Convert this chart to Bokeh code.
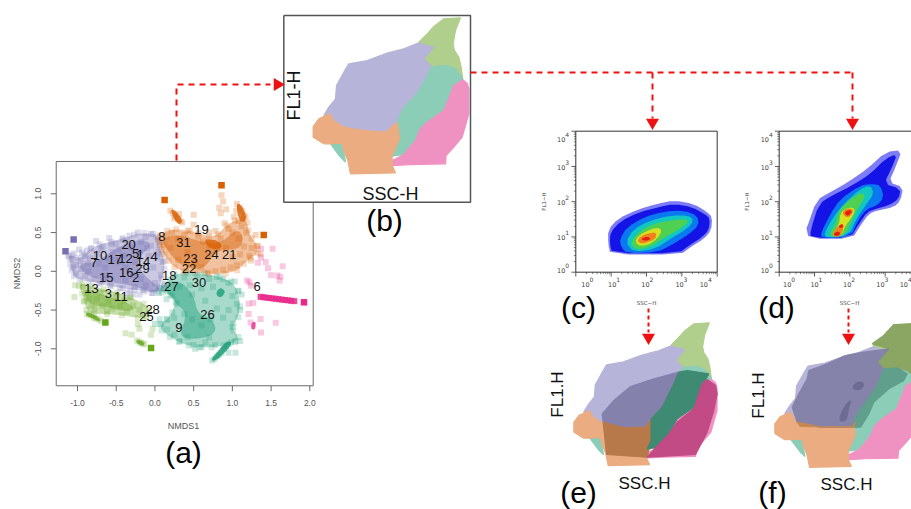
from bokeh.plotting import figure
from bokeh.models import Range1d
from bokeh.core.properties import value
from bokeh.embed import file_html
from bokeh.resources import INLINE
import numpy as np

# ---------- panel (a): NMDS ordination ----------
site_labels = ["19","8","20","31","5","1","4","23","24","21","10","7","17","12","14","29","22","16","15","2","18","30","27","6","13","3","11","28","25","26","9"]
site_x = [0.60,0.09,-0.34,0.37,-0.25,-0.19,-0.01,0.46,0.73,0.96,-0.71,-0.79,-0.52,-0.38,-0.155,-0.16,0.44,-0.37,-0.63,-0.25,0.185,0.57,0.21,1.32,-0.82,-0.6,-0.44,-0.03,-0.11,0.68,0.31]
site_y = [0.54,0.45,0.35,0.37,0.23,0.215,0.19,0.17,0.215,0.22,0.20,0.11,0.146,0.17,0.125,0.04,0.04,-0.02,-0.08,-0.086,-0.056,-0.14,-0.2,-0.2,-0.224,-0.28,-0.327,-0.49,-0.585,-0.563,-0.727]

purple_hull = [(-1.11,0.22),(-0.96,0.16),(-0.79,0.33),(-0.49,0.40),(-0.19,0.50),(0.03,0.48),(0.07,0.27),(0.14,0.09),(0.07,-0.16),(0.03,-0.29),(-0.19,-0.25),(-0.49,-0.21),(-0.79,-0.14),(-1.03,-0.10),(-1.09,0.05)]
orange_hull = [(0.03,0.44),(0.20,0.55),(0.50,0.52),(0.76,0.42),(0.98,0.65),(1.19,0.675),(1.21,0.48),(1.37,0.27),(1.19,0.14),(1.02,-0.03),(0.59,-0.03),(0.29,0.01),(0.14,0.18),(0.07,0.31)]
teal_hull = [(0.03,-0.25),(0.16,-0.14),(0.29,-0.01),(0.76,-0.04),(1.06,-0.16),(1.11,-0.55),(0.98,-0.72),(1.11,-0.89),(0.81,-0.98),(0.50,-0.98),(0.25,-0.89),(0.03,-0.72),(0.20,-0.59),(0.29,-0.34)]
green_hull = [(-1.0,-0.14),(-0.75,-0.21),(-0.40,-0.29),(-0.06,-0.46),(-0.12,-0.62),(-0.53,-0.55),(-0.875,-0.55),(-0.92,-0.34)]

purple_core = [(-1.0,0.1),(-0.75,0.12),(-0.5,0.3),(-0.2,0.42),(-0.02,0.35),(-0.25,0.15),(-0.15,-0.05),(0.08,-0.22),(0.0,-0.28),(-0.3,-0.18),(-0.6,-0.14),(-0.9,-0.05)]
orange_core = [(0.08,0.42),(0.3,0.48),(0.6,0.38),(0.85,0.35),(1.05,0.55),(1.15,0.45),(1.1,0.28),(0.8,0.28),(0.65,0.05),(0.5,0.02),(0.3,0.1),(0.15,0.28)]
teal_core = [(0.1,-0.2),(0.3,-0.1),(0.5,-0.3),(0.55,-0.55),(0.75,-0.62),(0.8,-0.8),(0.55,-0.88),(0.3,-0.85),(0.42,-0.55),(0.28,-0.42)]
green_core = [(-0.92,-0.2),(-0.7,-0.3),(-0.4,-0.38),(-0.25,-0.48),(-0.35,-0.52),(-0.6,-0.47),(-0.88,-0.42)]
dense_marks = [
 ("#D95F02",[(0.2,0.8),(0.26,0.79),(0.36,0.66),(0.32,0.6),(0.26,0.65)]),
 ("#D95F02",[(1.05,0.88),(1.11,0.86),(1.18,0.72),(1.16,0.63),(1.08,0.66)]),
 ("#D95F02",[(0.62,0.42),(0.82,0.4),(0.88,0.3),(0.72,0.28)]),
 ("#1B9E77",[(0.72,-1.14),(0.78,-1.16),(0.93,-1.02),(1.0,-0.92),(0.93,-0.9),(0.84,-1.0)]),
 ("#1B9E77",[(0.79,-0.27),(0.84,-0.21),(0.91,-0.25),(0.87,-0.33),(0.81,-0.33)]),
 ("#66A61E",[(-0.89,-0.53),(-0.8,-0.55),(-0.7,-0.62),(-0.72,-0.65),(-0.84,-0.59),(-0.89,-0.57)]),
 ("#66A61E",[(-0.24,-0.89),(-0.18,-0.89),(-0.13,-0.94),(-0.17,-0.96),(-0.24,-0.92)]),
 ("#E7298A",[(1.25,-0.66),(1.3,-0.65),(1.3,-0.73),(1.27,-0.76),(1.24,-0.73)]),
]

purple_pts = [(-1.12,0.2),(-1.08,0.16),(-1.05,0.23),(-1.02,0.08),(-0.98,0.28),(-0.95,0.03),(-0.9,0.2),(-0.86,0.0),(-0.82,0.3),(-0.76,0.39),(-0.72,0.1),(-0.68,0.32),(-0.59,0.43),(-0.62,-0.05),(-0.55,0.25),(-0.5,0.36),(-0.46,0.12),(-0.42,0.41),(-0.38,-0.12),(-0.33,0.46),(-0.3,0.3),(-0.26,-0.2),(-0.22,0.5),(-0.18,0.38),(-0.15,-0.24),(-0.12,0.44),(-0.08,0.2),(-0.05,0.48),(-0.02,0.05),(0.02,0.45),(0.05,0.25),(0.08,-0.05),(0.1,0.12),(0.12,-0.18),(-1.06,0.05),(-1.02,-0.03),(-0.96,0.13),(-0.9,-0.06),(-0.84,0.17),(-0.78,-0.1),(-0.7,-0.14),(-0.64,0.05),(-0.58,-0.18),(-0.52,0.15),(-0.45,-0.22),(-0.38,0.05),(-0.32,-0.25),(-0.25,0.12),(-0.18,-0.1),(-0.1,0.3),(-0.04,-0.28),(0.03,0.18),(0.08,-0.22),(-0.94,0.24),(-0.87,0.1),(-0.75,0.22),(-0.65,-0.1),(-0.56,0.35),(-0.47,0.28),(-0.36,0.38),(-0.28,-0.05),(-0.2,0.25),(-0.12,-0.18),(-0.05,0.33),(0.0,-0.15),(0.06,0.38),(-0.6,0.15),(-0.4,0.2),(-0.88,0.27),(-0.7,0.28),(-0.2,-0.3),(-0.28,-0.3),(-0.36,-0.28)]
orange_pts = [(0.2,0.78),(0.23,0.75),(0.26,0.71),(0.3,0.68),(0.33,0.65),(0.35,0.63),(0.25,0.68),(0.31,0.74),(0.5,0.73),(0.86,0.98),(0.88,0.9),(0.83,0.82),(0.85,0.75),(0.92,0.8),(1.06,0.87),(1.1,0.82),(1.13,0.78),(1.15,0.72),(1.17,0.7),(1.05,0.78),(1.02,0.7),(1.08,0.65),(0.9,0.62),(0.95,0.55),(1.0,0.5),(1.12,0.58),(1.18,0.5),(1.3,0.47),(1.32,0.33),(1.25,0.3),(1.22,0.2),(1.15,0.32),(1.08,0.42),(0.15,0.45),(0.22,0.5),(0.3,0.42),(0.38,0.47),(0.45,0.52),(0.5,0.6),(0.56,0.45),(0.62,0.38),(0.7,0.33),(0.8,0.3),(0.85,0.42),(0.92,0.3),(1.0,0.18),(1.06,0.08),(0.98,0.05),(0.88,0.02),(0.78,0.0),(0.68,-0.02),(0.6,0.05),(0.52,0.1),(0.42,0.25),(0.3,0.15),(0.2,0.3),(0.12,0.35),(0.7,0.5),(0.78,0.52),(1.1,0.22),(1.24,0.14),(1.36,0.22),(0.4,0.0)]
teal_pts = [(0.05,-0.28),(0.12,-0.22),(0.2,-0.3),(0.15,-0.36),(0.28,-0.42),(0.32,-0.2),(0.38,-0.08),(0.45,-0.18),(0.48,-0.3),(0.55,-0.05),(0.6,-0.22),(0.65,-0.38),(0.7,-0.1),(0.75,-0.2),(0.8,-0.07),(0.88,-0.1),(0.95,-0.15),(1.03,-0.13),(1.08,-0.25),(1.0,-0.32),(1.06,-0.42),(1.1,-0.5),(0.95,-0.5),(0.88,-0.6),(0.8,-0.48),(0.72,-0.62),(0.6,-0.7),(0.48,-0.62),(0.38,-0.55),(0.25,-0.6),(0.15,-0.62),(0.08,-0.68),(0.16,-0.75),(0.25,-0.82),(0.32,-0.9),(0.42,-0.85),(0.5,-0.95),(0.6,-0.98),(0.52,-1.0),(0.7,-0.85),(0.78,-0.95),(0.65,-0.92),(0.95,-1.05),(1.04,-0.9),(1.1,-0.9),(1.04,-1.05),(0.74,-1.15),(0.77,-1.13),(0.8,-1.1),(0.83,-1.08),(0.86,-1.05),(0.89,-1.0),(0.92,-0.97),(0.95,-0.94),(0.98,-0.92),(0.0,-0.68),(0.06,-0.62),(1.0,-0.72),(1.12,-0.3)]
green_pts = [(-1.03,-0.18),(-1.04,-0.33),(-0.93,-0.2),(-0.88,-0.28),(-0.92,-0.38),(-0.82,-0.44),(-0.75,-0.36),(-0.68,-0.45),(-0.7,-0.28),(-0.6,-0.4),(-0.55,-0.48),(-0.62,-0.52),(-0.45,-0.45),(-0.4,-0.38),(-0.36,-0.52),(-0.28,-0.44),(-0.2,-0.5),(-0.15,-0.6),(-0.22,-0.68),(-0.2,-0.74),(-0.38,-0.8),(-0.3,-0.82),(-0.03,-0.74),(-0.05,-0.82),(-0.875,-0.55),(-0.85,-0.56),(-0.82,-0.57),(-0.79,-0.6),(-0.76,-0.61),(-0.73,-0.62),(-0.7,-0.64),(-0.23,-0.895),(-0.2,-0.91),(-0.18,-0.925),(-0.16,-0.93),(-0.14,-0.94),(-0.85,-0.36),(-0.78,-0.48),(-0.5,-0.33),(-0.32,-0.34)]
pink_pts = [(1.37,0.29),(1.52,0.29),(1.37,0.18),(1.43,0.12),(1.33,0.11),(1.46,0.04),(1.65,0.065),(1.5,-0.05),(1.58,-0.055),(1.61,-0.12),(1.19,-0.12),(1.24,-0.185),(1.21,-0.42),(1.27,-0.41),(1.21,-0.55),(1.365,-0.615),(1.56,-0.665),(1.37,-0.79),(1.235,-0.66),(1.22,-0.14),(1.62,-0.07)]
pink_streak = [(1.365,-0.33),(1.4,-0.335),(1.44,-0.34),(1.48,-0.345),(1.52,-0.35),(1.56,-0.355),(1.6,-0.36),(1.64,-0.365),(1.68,-0.37),(1.72,-0.375),(1.76,-0.38),(1.8,-0.385)]
solid_orange = [(0.125,0.92),(0.86,1.11),(1.405,0.47)]
solid_purple = [(-1.05,0.41),(-1.155,0.26)]
solid_green = [(-0.64,-0.66),(-0.05,-0.99)]
solid_pink = [(1.925,-0.40)]

# ---------- gates in FL1/SSC channel units ----------
gate_green = [(570,52),(520,55),(490,78),(470,100),(445,125),(470,140),(460,175),(485,200),(530,195),(555,205),(577,238),(572,200),(565,170),(552,150),(548,130),(555,90)]
gate_purple = [(175,320),(195,295),(198,255),(220,215),(235,190),(290,180),(350,158),(400,145),(445,127),(470,135),(490,140),(460,175),(483,198),(465,235),(440,280),(410,310),(395,330),(380,365),(345,395),(300,390),(245,385),(210,378),(180,345),(160,345)]
gate_teal = [(483,198),(530,195),(555,205),(577,235),(550,255),(540,280),(520,330),(470,365),(450,385),(435,420),(400,462),(365,467),(385,415),(380,365),(395,330),(410,310),(440,280),(465,235)]
gate_teal2 = [(180,430),(215,428),(225,485),(210,470),(195,450)]
gate_pink = [(577,238),(590,248),(595,265),(595,340),(585,375),(575,410),(550,440),(527,465),(525,490),(420,492),(365,495),(365,480),(400,462),(435,420),(450,385),(470,365),(520,330),(540,280),(550,255)]
gate_orange = [(178,340),(190,360),(215,378),(245,385),(300,392),(345,395),(380,365),(387,415),(365,465),(365,495),(375,517),(240,520),(232,480),(220,450),(215,428),(180,430),(160,430),(128,410),(128,378),(145,355)]

# overlays of panels (e) and (f)
e_purple = [(215,310),(250,270),(300,228),(370,205),(445,185),(430,220),(395,290),(375,310),(362,325),(345,350),(280,352),(218,335)]
e_orange = [(218,335),(280,352),(345,350),(362,325),(385,345),(362,390),(350,440),(228,432)]
e_teal = [(445,185),(470,180),(535,190),(515,225),(490,290),(440,325),(415,370),(380,410),(350,415),(362,390),(362,325),(395,290),(430,220)]
e_pink = [(515,220),(530,207),(555,225),(560,250),(550,300),(530,365),(495,432),(350,440),(375,412),(415,370),(440,335),(490,295)]
f_green = [(1143,40),(1090,42),(1060,75),(1025,100),(1075,115),(1040,155),(1060,175),(1100,172),(1130,180),(1143,190)]
f_purple = [(785,290),(805,250),(830,205),(835,180),(890,160),(945,135),(1000,125),(1075,115),(1040,155),(1060,175),(1040,225),(1005,275),(975,320),(965,350),(870,350),(800,335)]
f_blob1 = [(965,225),(985,210),(1005,220),(990,240),(970,238)]
f_blob2 = [(925,320),(945,280),(965,265),(955,295),(950,330),(930,335)]
f_teal = [(1060,175),(1100,172),(1130,190),(1120,210),(1075,235),(1030,275),(1015,310),(990,350),(965,350),(975,320),(1005,275),(1040,225)]
f_orange = [(800,335),(810,348),(970,350),(975,335),(965,348),(870,350)]

# ---------- density contours of panels (c) and (d) ----------
jet = ["#7C7CF6","#1414E6","#0A78F0","#10C8C0","#50D050","#D8E020","#F08020","#E02010"]
c_levels = [
 [(233,358),(262,325),(320,298),(380,280),(430,270),(490,280),(530,305),(545,320),(542,360),(520,385),(480,410),(450,432),(240,432),(233,400)],
 [(240,365),(270,332),(325,305),(385,290),(430,280),(485,290),(525,312),(538,325),(535,358),(515,380),(475,405),(445,428),(245,428),(238,400)],
 [(268,385),(290,350),(340,320),(400,303),(460,300),(500,315),(505,345),(470,375),(420,405),(380,425),(290,428),(272,410)],
 [(285,395),(310,355),(360,330),(420,315),(475,315),(490,330),(470,355),(420,385),(375,415),(310,425)],
 [(300,395),(330,360),(370,340),(420,330),(465,325),(475,335),(440,360),(395,385),(360,410),(315,418)],
 [(315,385),(340,365),(380,350),(395,360),(380,385),(350,405),(320,405)],
 [(322,385),(345,370),(378,365),(375,385),(345,398),(325,398)],
 [(330,385),(350,378),(362,385),(345,392)],
]
d_levels = [
 [(830,350),(858,268),(900,245),(960,210),(1010,175),(1065,125),(1115,118),(1095,170),(1075,215),(1118,230),(1110,270),(1090,290),(1040,300),(1015,310),(990,345),(965,385),(835,385),(827,350)],
 [(840,360),(865,280),(905,255),(965,225),(1020,190),(1065,145),(1100,130),(1085,170),(1060,220),(1110,235),(1105,265),(1075,285),(1035,295),(1010,305),(985,340),(960,382),(840,382)],
 [(870,370),(900,310),(930,265),(990,225),(1025,220),(1050,225),(1060,260),(1040,285),(1010,295),(985,325),(960,380),(875,382)],
 [(880,372),(905,325),(940,280),(990,235),(1020,225),(1030,250),(1005,285),(980,320),(955,375),(890,382)],
 [(895,372),(915,340),(925,300),(960,265),(995,245),(1005,260),(980,295),(965,330),(945,372),(910,380)],
 [(905,370),(925,345),(930,305),(955,290),(975,295),(965,320),(945,345),(935,372),(915,380)],
 [(935,305),(950,293),(970,297),(960,318),(945,320)],
 [(942,305),(955,298),(965,302),(955,315),(947,315)],
]
d_hot = [
 ("#F08020",[(905,370),(925,345),(940,340),(935,370),(918,382)]),
 ("#E02010",[(908,368),(925,362),(930,372),(915,378)]),
 ("#E02010",[(925,345),(937,340),(938,350),(928,353)]),
]
flow_exps = ["0","1","2","3","4"]
c_xlab = [165,245,345,447,520]
d_xlab = [770,852,950,1050,1120]

FONT = value("Liberation Sans")

p = figure(width=911, height=509, x_range=Range1d(0, 911), y_range=Range1d(509, 0),
           output_backend="svg", toolbar_location=None, x_axis_type="linear",
           min_border=0, outline_line_color=None, margin=(0, 0, 0, 0))
p.axis.visible = False
p.grid.visible = False


def sub(xs, ys, xt, yt):
    return p.subplot(x_source=Range1d(*xs), y_source=Range1d(*ys),
                     x_target=Range1d(*xt), y_target=Range1d(*yt))


def round_corners(pts, passes=2):
    a_ = np.array(pts, float)
    for _ in range(passes):
        b_ = np.roll(a_, -1, axis=0)
        a_ = np.column_stack([0.75 * a_ + 0.25 * b_, 0.25 * a_ + 0.75 * b_]).reshape(-1, 2)
    return a_


def poly(api, pts, passes=0, seal=False, **kw):
    q = round_corners(pts, passes)
    if seal:
        kw = dict(kw, line_color=kw["fill_color"], line_width=1.2)
    else:
        kw = dict(kw, line_color=None)
    return api.patch(q[:, 0].tolist(), q[:, 1].tolist(), **kw)


def fringe(api, pts, passes, col, alpha):
    q = round_corners(pts, passes)
    api.scatter(q[:, 0].tolist(), q[:, 1].tolist(), marker="square", size=6, fill_color=col, fill_alpha=alpha, line_color=None)


def txt(api, x, y, s, size, color="#000000", angle=0.0, font=FONT):
    api.text([x], [y], text=[s], text_font=font, text_font_size=f"{size}px",
             text_color=color, text_align="center", text_baseline="middle", angle=angle)


def rect_outline(api, x0, x1, y0, y1, color, width):
    api.line([x0, x1, x1, x0, x0], [y0, y0, y1, y1, y0], line_color=color, line_width=width)


# ---------- (a) ----------
a = sub((-1, 2), (1, -1), (77, 309.3), (193.3, 348.3))
AX = (-1.275, 2.044)
AY = (1.417, -1.477)
for pts, col in [(purple_hull, "#7570B3"), (orange_hull, "#D95F02"), (teal_hull, "#1B9E77"), (green_hull, "#66A61E")]:
    poly(a, pts, 2, fill_color=col, fill_alpha=0.38)
    fringe(a, pts, 1, col, 0.22)
for pts, col in [(purple_core, "#7570B3"), (orange_core, "#D95F02"), (teal_core, "#1B9E77"), (green_core, "#66A61E")]:
    poly(a, pts, 2, fill_color=col, fill_alpha=0.45)
for col, pts in dense_marks:
    poly(a, pts, 1, fill_color=col, fill_alpha=0.8)
for pts, col in [(purple_pts, "#7570B3"), (orange_pts, "#D95F02"), (teal_pts, "#1B9E77"), (green_pts, "#66A61E"), (pink_pts, "#E7298A")]:
    xs, ys = zip(*pts)
    a.scatter(list(xs), list(ys), marker="square", size=6, fill_color=col, fill_alpha=0.25, line_color=None)
xs, ys = zip(*pink_streak)
a.scatter(list(xs), list(ys), marker="square", size=6, fill_color="#E7298A", fill_alpha=0.85, line_color=None)
for pts, col in [(solid_orange, "#D95F02"), (solid_purple, "#7570B3"), (solid_green, "#66A61E"), (solid_pink, "#E7298A")]:
    xs, ys = zip(*pts)
    a.scatter(list(xs), list(ys), marker="square", size=6.5, fill_color=col, fill_alpha=1, line_color=None)
rect_outline(a, AX[0], AX[1], AY[0], AY[1], "#6A6A6A", 1)
a_xticks = [-1.0, -0.5, 0.0, 0.5, 1.0, 1.5, 2.0]
a_yticks = [-1.0, -0.5, 0.0, 0.5, 1.0]
a.segment(a_xticks, [AY[1]] * 7, a_xticks, [AY[1] - 0.07] * 7, line_color="#6A6A6A", line_width=1)
a.segment([AX[0]] * 5, a_yticks, [AX[0] - 0.07] * 5, a_yticks, line_color="#6A6A6A", line_width=1)
for t in a_xticks:
    a.text([t], [AY[1] - 0.225], text=[f"{t:.1f}"], text_font=FONT, text_font_size="8.5px", text_color="#555555",
           text_align="center", text_baseline="middle")
for t in a_yticks:
    a.text([AX[0] - 0.23], [t], text=[f"{t:.1f}"], text_font=FONT, text_font_size="8.5px", text_color="#555555",
           text_align="center", text_baseline="middle", angle=np.pi / 2)
txt(p, 183, 425, "NMDS1", 9, "#555555")
txt(p, 16, 273, "NMDS2", 9, "#555555", np.pi / 2)
a.text(site_x, site_y, text=site_labels, text_font=FONT, text_font_size="13px", text_color="#111111",
       text_align="center", text_baseline="middle")
txt(p, 183, 452, "(a)", 30)

# ---------- gates (b) (e) (f) ----------
GX = (40, 600)
GY = (45, 605)
b_box = sub(GX, GY, (283.3, 470), (15, 201.7))
e_box = sub(GX, GY, (546.35, 718.07), (320.2, 491))
f_box = sub(GX, GY, (747.05, 920.7), (321.2, 492.9))
b_box.quad(left=[GX[0]], right=[GX[1]], top=[GY[0]], bottom=[GY[1]], fill_color="#FFFFFF", line_color=None)
for api in (b_box, e_box, f_box):
    for pts, col in [(gate_green, "#B1CF8C"), (gate_purple, "#B6B4D8"), (gate_teal, "#8BCDB7"), (gate_teal2, "#8BCDB7"),
                     (gate_pink, "#F092C1"), (gate_orange, "#EAAC80")]:
        poly(api, pts, 0, True, fill_color=col)
rect_outline(b_box, GX[0], GX[1], GY[0], GY[1], "#555555", 1.5)
txt(p, 390, 193, "SSC-H", 18, "#111111")
txt(p, 293, 95, "FL1-H", 18, "#111111", np.pi / 2)
txt(p, 384, 220, "(b)", 30)

ov = sub((0, 1143), (0, 597), (530, 911), (310, 509))
for pts, col in [(e_purple, "#8482AC"), (e_orange, "#B8794A"), (e_teal, "#3F8A72"), (e_pink, "#C24B85"),
                 (f_green, "#8AA662"), (f_purple, "#8583AA"), (f_teal, "#5F9F8C"), (f_orange, "#C4874F")]:
    poly(ov, pts, 0, True, fill_color=col)
for pts in (f_blob1, f_blob2):
    poly(ov, pts, 2, fill_color="#6D6B94")
txt(p, 644, 483, "SSC.H", 17, "#111111")
txt(p, 846, 484, "SSC.H", 17, "#111111")
txt(p, 557, 394, "FL1.H", 17, "#111111", np.pi / 2)
txt(p, 758, 395, "FL1.H", 17, "#111111", np.pi / 2)
txt(p, 578, 492, "(e)", 30)
txt(p, 772, 492, "(f)", 30)

# ---------- density plots (c) (d) ----------
c_ax = sub((136, 560), (62, 485), (575.3, 716.7), (130.7, 271.7))
for pts, col in zip(c_levels, jet):
    poly(c_ax, pts, 1, fill_color=col)
d_ax = sub((746, 1143), (62, 485), (778.7, 911), (130.7, 271.7))
for pts, col in zip(d_levels, jet):
    poly(d_ax, pts, 1, fill_color=col)
for col, pts in d_hot:
    poly(d_ax, pts, 1, fill_color=col)

minor = np.log10(np.arange(2, 10))
for api, x0, xlabs, right, ylabx in [(c_ax, 136, c_xlab, 560, 92), (d_ax, 746, d_xlab, 1143, 703)]:
    api.line([x0, right], [62, 62], line_color="#333333", line_width=1)
    api.line([x0, right], [485, 485], line_color="#333333", line_width=1)
    api.line([x0, x0], [62, 485], line_color="#333333", line_width=1)
    if right == 560:
        api.line([right, right], [62, 485], line_color="#333333", line_width=1)
    for k in range(5):
        X = x0 + 106 * k
        Y = 485 - 105.75 * k
        if X <= right:
            api.segment([X], [485], [X], [498], line_color="#333333", line_width=0.8)
        api.segment([x0], [Y], [x0 - 13], [Y], line_color="#333333", line_width=0.8)
        if k < 4:
            mx = [X + 106 * m for m in minor]
            my = [Y - 105.75 * m for m in minor]
            api.segment(mx, [485] * 8, mx, [491] * 8, line_color="#333333", line_width=0.6)
            api.segment([x0] * 8, my, [x0 - 6] * 8, my, line_color="#333333", line_width=0.6)
    yl = [480, 380, 275, 170, 88]
    for k, e in enumerate(flow_exps):
        api.text([ylabx], [yl[k]], text=["10"], text_font=value("DejaVu Sans"), text_font_size="6.5px",
                 text_color="#444444", text_align="center", text_baseline="middle")
        api.text([ylabx + 18], [yl[k] - 15], text=[e], text_font=value("DejaVu Sans"), text_font_size="6px",
                 text_color="#444444", text_align="center", text_baseline="middle")
        api.text([xlabs[k]], [522], text=["10"], text_font=value("DejaVu Sans"), text_font_size="6.5px",
                 text_color="#444444", text_align="center", text_baseline="middle")
        api.text([xlabs[k] + 18], [507], text=[e], text_font=value("DejaVu Sans"), text_font_size="6px",
                 text_color="#444444", text_align="center", text_baseline="middle")
DJ = value("DejaVu Sans")
txt(p, 543, 201, "FL1\u2212H", 5.5, "#444444", np.pi / 2, DJ)
txt(p, 746, 201, "FL1\u2212H", 5.5, "#444444", np.pi / 2, DJ)
txt(p, 646, 302, "SSC\u2212H", 5.5, "#444444", 0, DJ)
txt(p, 849, 302, "SSC\u2212H", 5.5, "#444444", 0, DJ)
txt(p, 578, 307, "(c)", 30)
txt(p, 776, 307, "(d)", 30)

# ---------- arrows ----------
RED = "#EE1111"
dash = dict(line_color=RED, line_width=2, line_dash="6 5")
p.line([176, 176, 270], [160, 84, 84], **dash)
p.line([470, 852], [72, 72], **dash)
p.line([652, 652], [72, 118], **dash)
p.line([852, 852], [72, 118], **dash)
p.line([648, 648], [308, 332], line_color=RED, line_width=2, line_dash="4 3")
p.line([848, 848], [308, 332], line_color=RED, line_width=2, line_dash="4 3")
p.scatter([652, 852, 648, 848], [122, 122, 337, 337], marker="inverted_triangle", size=13, fill_color=RED, line_color=None)
p.scatter([277], [84], marker="triangle", size=13, fill_color=RED, line_color=None, angle=-np.pi / 2)

open("out.html", "w").write(file_html(p, INLINE))
